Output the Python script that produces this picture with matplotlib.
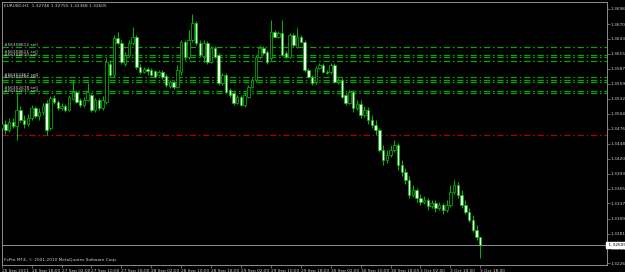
import matplotlib
matplotlib.use("Agg")
import matplotlib.pyplot as plt
from matplotlib.transforms import blended_transform_factory

# EURUSD H1, 26 Sep 2011 10:00 .. 3 Oct 18:00 (129 bars)
opens = [1.3478, 1.3485, 1.3474, 1.3489, 1.3481, 1.3511, 1.3492, 1.3485,
         1.3496, 1.3515, 1.3500, 1.3507, 1.3524, 1.3478, 1.3533, 1.3526,
         1.3515, 1.3518, 1.3511, 1.3531, 1.3544, 1.3530, 1.3520, 1.3530,
         1.3539, 1.3511, 1.3530, 1.3515, 1.3526, 1.3596, 1.3576, 1.3645,
         1.3635, 1.3596, 1.3613, 1.3635, 1.3647, 1.3591, 1.3582, 1.3587,
         1.3585, 1.3583, 1.3576, 1.3582, 1.3574, 1.3556, 1.3563, 1.3554,
         1.3582, 1.3637, 1.3609, 1.3641, 1.3673, 1.3635, 1.3611, 1.3635,
         1.3600, 1.3626, 1.3613, 1.3561, 1.3576, 1.3548, 1.3543, 1.3524,
         1.3535, 1.3520, 1.3535, 1.3554, 1.3567, 1.3609, 1.3626, 1.3619,
         1.3608, 1.3656, 1.3647, 1.3654, 1.3617, 1.3609, 1.3650, 1.3628,
         1.3647, 1.3637, 1.3585, 1.3572, 1.3563, 1.3589, 1.3595, 1.3582,
         1.3582, 1.3595, 1.3563, 1.3567, 1.3539, 1.3524, 1.3544, 1.3515,
         1.3522, 1.3502, 1.3511, 1.3492, 1.3483, 1.3474, 1.3437, 1.3418,
         1.3427, 1.3437, 1.3446, 1.3409, 1.3396, 1.3381, 1.3353, 1.3362,
         1.3348, 1.3340, 1.3344, 1.3333, 1.3338, 1.3329, 1.3335, 1.3325,
         1.3335, 1.3359, 1.3372, 1.3353, 1.3335, 1.3322, 1.3307, 1.3288,
         1.32746]
highs = [1.3496, 1.3492, 1.3496, 1.3496, 1.3543, 1.3518, 1.3502, 1.3504,
         1.3520, 1.3518, 1.3515, 1.3524, 1.3530, 1.3537, 1.3539, 1.3530,
         1.3524, 1.3522, 1.3539, 1.3567, 1.3548, 1.3533, 1.3535, 1.3561,
         1.3543, 1.3533, 1.3533, 1.3537, 1.3608, 1.3604, 1.3650, 1.3656,
         1.3641, 1.3619, 1.3641, 1.3665, 1.3650, 1.3596, 1.3591, 1.3591,
         1.3589, 1.3585, 1.3585, 1.3585, 1.3578, 1.3567, 1.3567, 1.3595,
         1.3641, 1.3641, 1.3660, 1.3689, 1.3676, 1.3641, 1.3641, 1.3639,
         1.3630, 1.3630, 1.3617, 1.3580, 1.3580, 1.3552, 1.3546, 1.3539,
         1.3539, 1.3543, 1.3557, 1.3570, 1.3613, 1.3632, 1.3630, 1.3622,
         1.3678, 1.3660, 1.3658, 1.3678, 1.3621, 1.3654, 1.3654, 1.3663,
         1.3650, 1.3641, 1.3589, 1.3576, 1.3593, 1.3598, 1.3598, 1.3585,
         1.3598, 1.3598, 1.3570, 1.3570, 1.3543, 1.3548, 1.3548, 1.3530,
         1.3530, 1.3518, 1.3517, 1.3502, 1.3492, 1.3478, 1.3446, 1.3437,
         1.3446, 1.3455, 1.3450, 1.3418, 1.3403, 1.3388, 1.3372, 1.3366,
         1.3355, 1.3351, 1.3348, 1.3344, 1.3344, 1.3340, 1.3338, 1.3344,
         1.3372, 1.3381, 1.3377, 1.3362, 1.3344, 1.3329, 1.3316, 1.3297,
         1.32755]
lows = [1.3470, 1.3466, 1.3470, 1.3478, 1.3455, 1.3489, 1.3478, 1.3481,
        1.3492, 1.3496, 1.3492, 1.3502, 1.3465, 1.3474, 1.3522, 1.3511,
        1.3511, 1.3507, 1.3509, 1.3530, 1.3524, 1.3517, 1.3517, 1.3528,
        1.3507, 1.3507, 1.3511, 1.3511, 1.3522, 1.3572, 1.3572, 1.3632,
        1.3596, 1.3593, 1.3609, 1.3632, 1.3587, 1.3578, 1.3580, 1.3576,
        1.3574, 1.3570, 1.3574, 1.3569, 1.3554, 1.3552, 1.3550, 1.3552,
        1.3576, 1.3604, 1.3606, 1.3637, 1.3632, 1.3609, 1.3600, 1.3596,
        1.3598, 1.3608, 1.3557, 1.3557, 1.3543, 1.3535, 1.3520, 1.3522,
        1.3518, 1.3517, 1.3533, 1.3552, 1.3563, 1.3606, 1.3613, 1.3596,
        1.3604, 1.3645, 1.3645, 1.3611, 1.3608, 1.3608, 1.3628, 1.3626,
        1.3635, 1.3582, 1.3570, 1.3557, 1.3559, 1.3587, 1.3580, 1.3578,
        1.3578, 1.3561, 1.3559, 1.3533, 1.3520, 1.3522, 1.3507, 1.3511,
        1.3496, 1.3498, 1.3485, 1.3478, 1.3465, 1.3433, 1.3409, 1.3413,
        1.3424, 1.3433, 1.3400, 1.3388, 1.3374, 1.3348, 1.3349, 1.3340,
        1.3335, 1.3336, 1.3325, 1.3329, 1.3322, 1.3325, 1.3318, 1.3322,
        1.3331, 1.3355, 1.3348, 1.3329, 1.3318, 1.3303, 1.3284, 1.3270,
        1.32368]
closes = [1.3485, 1.3474, 1.3489, 1.3481, 1.3511, 1.3492, 1.3485, 1.3496,
          1.3515, 1.3500, 1.3507, 1.3518, 1.3474, 1.3533, 1.3526, 1.3515,
          1.3518, 1.3511, 1.3535, 1.3544, 1.3526, 1.3520, 1.3530, 1.3544,
          1.3511, 1.3530, 1.3515, 1.3530, 1.3600, 1.3576, 1.3645, 1.3635,
          1.3600, 1.3613, 1.3635, 1.3647, 1.3591, 1.3582, 1.3587, 1.3583,
          1.3576, 1.3572, 1.3582, 1.3572, 1.3557, 1.3563, 1.3554, 1.3585,
          1.3637, 1.3609, 1.3641, 1.3673, 1.3635, 1.3613, 1.3635, 1.3600,
          1.3626, 1.3609, 1.3561, 1.3576, 1.3544, 1.3539, 1.3524, 1.3535,
          1.3520, 1.3539, 1.3554, 1.3567, 1.3609, 1.3626, 1.3617, 1.3600,
          1.3656, 1.3647, 1.3654, 1.3613, 1.3609, 1.3650, 1.3632, 1.3647,
          1.3637, 1.3585, 1.3572, 1.3561, 1.3589, 1.3595, 1.3582, 1.3580,
          1.3595, 1.3563, 1.3567, 1.3535, 1.3524, 1.3544, 1.3515, 1.3522,
          1.3502, 1.3511, 1.3492, 1.3483, 1.3474, 1.3437, 1.3418, 1.3427,
          1.3437, 1.3446, 1.3409, 1.3396, 1.3381, 1.3353, 1.3362, 1.3348,
          1.3340, 1.3344, 1.3333, 1.3338, 1.3329, 1.3335, 1.3325, 1.3335,
          1.3359, 1.3372, 1.3353, 1.3335, 1.3322, 1.3307, 1.3288, 1.32746,
          1.32605]

time_labels = ["26 Sep 2011", "26 Sep 18:00", "27 Sep 02:00", "27 Sep 10:00",
               "27 Sep 18:00", "28 Sep 02:00", "28 Sep 10:00", "28 Sep 18:00",
               "29 Sep 02:00", "29 Sep 10:00", "29 Sep 18:00", "30 Sep 02:00",
               "30 Sep 10:00", "30 Sep 18:00", "3 Oct 02:00", "3 Oct 10:00",
               "3 Oct 18:00"]
price_labels = ["1.36985", "1.36705", "1.36430", "1.36150", "1.35875", "1.35595",
                "1.35320", "1.35040", "1.34760", "1.34485", "1.34205", "1.33930",
                "1.33650", "1.33375", "1.33095", "1.32815", "1.32540", "1.32260"]

# order levels
order_prices = [1.36274, 1.36131, 1.36088, 1.36019, 1.35717, 1.35667, 1.35624,
                1.35468, 1.35420]
order_names = ["#56358612 sell", "#56358611 sell", "#56358610 sell", None,
               "#56352467 sell", "#56352466 sell", None, "#56352678 sell",
               "#56352677 sell"]
tp_price = 1.34640
bid = 1.32605

bg = "black"
green = "#00b400"
frame = "#8c8c8c"
txt = "#d0d0d0"
fs = 3.1

fig = plt.figure(figsize=(6.25, 2.72), dpi=100, facecolor=bg)
W, H = 625.0, 272.0
ax = fig.add_axes([1.7 / W, 7 / H, (607 - 1.7) / W, (265 - 1.7) / H])
ax.set_facecolor(bg)
ax.set_xlim(0.25, 161.9)
ax.set_ylim(1.32232, 1.37120)

n = len(closes)
xs = list(range(n))

# order lines
for p in order_prices:
    ax.axhline(p, color="#00a800", lw=0.9, dashes=(5, 2.2, 1.3, 2.2), zorder=1)
ax.axhline(tp_price, color="#b00000", lw=0.9, dashes=(5, 2.2, 1.3, 2.2), zorder=1)

# candles: bear = white body, bull = black body, green outline
for i in xs:
    o, h, l, c = opens[i], highs[i], lows[i], closes[i]
    ax.vlines(i, l, h, color=green, lw=0.75, zorder=2)
    face = "#eaffea" if c < o else bg
    ax.bar(i, abs(c - o) if c != o else 0.00003, bottom=min(o, c), width=0.66,
           facecolor=face, edgecolor=green, lw=0.55, zorder=3)

# bid line
ax.axhline(bid, color="#8c8c9c", lw=0.7, zorder=4)

tr = blended_transform_factory(ax.transAxes, ax.transData)
for p, name in zip(order_prices, order_names):
    if name:
        ax.text(0.003, p + 0.00012, name, transform=tr, color=txt, fontsize=fs,
                va="bottom", ha="left", zorder=5)

ax.text(0.003, 0.992, "EURUSD,H1  1.32746 1.32755 1.32368 1.32605",
        transform=ax.transAxes, color=txt, fontsize=fs, va="top", ha="left")
ax.text(0.003, 0.012, "FxPro MT4, \u00a9 2001-2010 MetaQuotes Software Corp.",
        transform=ax.transAxes, color=txt, fontsize=fs, va="bottom", ha="left")

# axes frame and ticks
for s in ax.spines.values():
    s.set_color(frame)
    s.set_linewidth(0.7)
ax.set_xticks(xs[::8])
ax.set_xticklabels(time_labels, ha="left", color=txt, fontsize=fs)
ax.set_yticks([float(v) for v in price_labels])
ax.set_yticklabels(price_labels, color=txt, fontsize=fs)
ax.yaxis.tick_right()
ax.tick_params(axis="x", colors=frame, length=2, width=0.5, pad=0.8, labelcolor=txt)
ax.tick_params(axis="y", colors=frame, length=2, width=0.5, pad=0.8, labelcolor=txt)

ax.text(1.0, bid, " 1.32605", transform=tr, color="black", fontsize=fs,
        va="center", ha="left", zorder=6, clip_on=False,
        bbox=dict(boxstyle="square,pad=0.15", fc="white", ec="white"))

fig.savefig("out.png", dpi=100, facecolor=bg)
